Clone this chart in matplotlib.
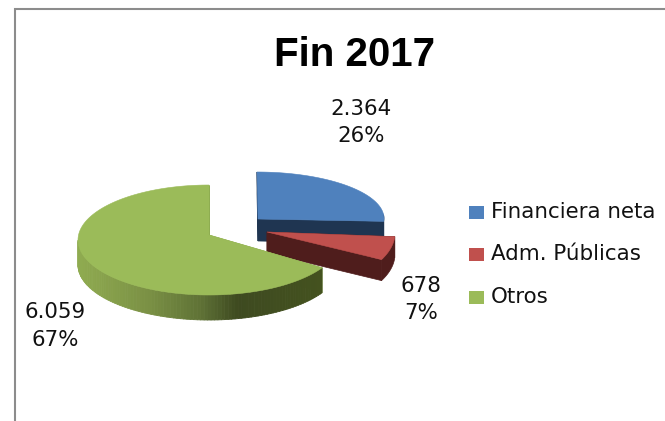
import numpy as np
import matplotlib
matplotlib.use("Agg")
import matplotlib.pyplot as plt
from matplotlib.patches import Polygon, Rectangle
from matplotlib.collections import PolyCollection
from matplotlib.colors import LinearSegmentedColormap

title = "Fin 2017"
categories = ["Financiera neta", "Adm. Públicas", "Otros"]
values = [2364, 678, 6059]

top_colors = ["#4f81bd", "#c0504d", "#9bbb59"]
side_colors = ["#1f3551", "#4f1d1c", "#8aa84e"]

# layout in pixels: ellipse centre, radii, apex, depth, apparent angle compression
geom = [
    dict(c=(257, 218.5), r=(127, 46.5), apex=(258, 219), d=22, warp=1.0),
    dict(c=(265, 233), r=(130, 60), apex=(267, 232), d=21, warp=0.85),
    dict(c=(209, 240), r=(131, 55), apex=(209, 235), d=25, warp=1.0),
]
label_pos = [(361, 122.5), (421, 299.5), (55, 326)]
legend_y = [212, 254, 297]

fig = plt.figure(figsize=(6.65, 4.21), dpi=100, facecolor="white")
ax = fig.add_axes([0, 0, 1, 1])
ax.set_xlim(0, 665)
ax.set_ylim(421, 0)
ax.axis("off")

# chart frame
ax.plot([15, 15, 665], [421, 9, 9], color="#8c8c8c", lw=1.5, solid_joinstyle="miter")

total = sum(values)
fractions = [v / total for v in values]
starts = 90 - 360 * np.cumsum([0] + fractions[:-1])
ends = starts - 360 * np.array(fractions)

def rim(g, t0, t1, n=160):
    t = np.radians(np.linspace(t0, t0 + (t1 - t0) * g["warp"], n))
    return np.c_[g["c"][0] + g["r"][0] * np.cos(t), g["c"][1] - g["r"][1] * np.sin(t)]

def extrude(pts, d):
    return np.vstack([pts, (pts + [0, d])[::-1]])

grad = LinearSegmentedColormap.from_list("g", [
    (0.00, "#8fab50"), (0.13, "#869f4b"), (0.29, "#7a9044"),
    (0.50, "#5f7236"), (0.65, "#3e4a20"), (1.00, "#44521f")])

for i, g in enumerate(geom):
    e = rim(g, starts[i], ends[i])
    apex = np.array(g["apex"], float)
    first, last = e[0], e[-1]
    # cut faces
    ax.add_patch(Polygon(extrude(np.array([apex, last]), g["d"]), closed=True,
                         fc=side_colors[i], ec=side_colors[i], lw=0.5))
    ax.add_patch(Polygon(extrude(np.array([apex, first]), g["d"]), closed=True,
                         fc=side_colors[i], ec=side_colors[i], lw=0.5))
    # outer rim, front part only
    front = e[(e[:, 1] >= g["c"][1] - 4)]
    if i == 2:
        vis = e[e[:, 1] >= g["c"][1]]
        quads = [[vis[k], vis[k + 1], vis[k + 1] + [0, g["d"]], vis[k] + [0, g["d"]]]
                 for k in range(len(vis) - 1)]
        xm = np.array([(q[0][0] + q[1][0]) / 2 for q in quads])
        cols = grad((xm - 78) / (323 - 78))
        ax.add_collection(PolyCollection(quads, facecolors=cols, edgecolors=cols, linewidths=0.6))
    else:
        ax.add_patch(Polygon(extrude(front, g["d"]), closed=True,
                             fc=side_colors[i], ec=side_colors[i], lw=0.5))
    ax.add_patch(Polygon(np.vstack([apex, e]), closed=True, fc=top_colors[i],
                         ec=top_colors[i], lw=0.4))

# data labels
for (x, y), v, f in zip(label_pos, values, fractions):
    txt = f"{v:,}".replace(",", ".") + f"\n{f * 100:.0f}%"
    ax.text(x, y, txt, ha="center", va="center", fontsize=15.4, color="#111111",
            family="DejaVu Sans", linespacing=1.48)

# legend
for name, color, y in zip(categories, top_colors, legend_y):
    ax.add_patch(Rectangle((469, y - 6.5), 15, 13, fc=color, ec="none"))
    ax.text(491, y, name, ha="left", va="center", fontsize=15.4, color="#111111",
            family="DejaVu Sans")

ax.text(355, 55, title, ha="center", va="center", fontsize=29, fontweight="bold",
        color="black", family="Liberation Sans")

fig.savefig("out.png", dpi=100, facecolor="white")
